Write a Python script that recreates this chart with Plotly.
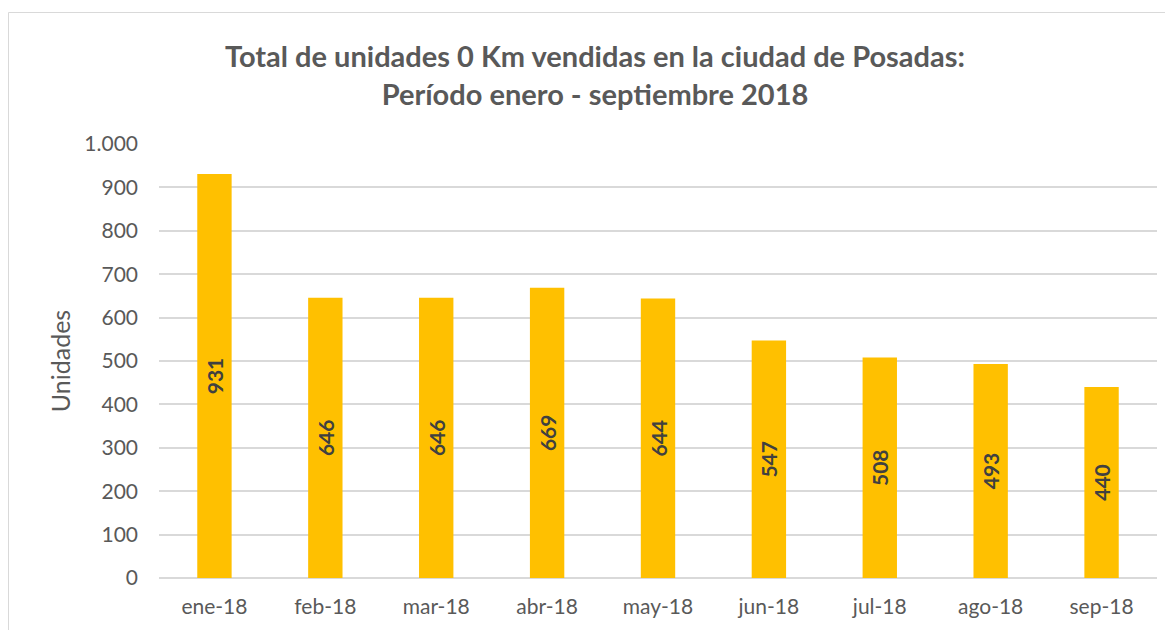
import plotly.graph_objects as go

months = ["ene-18", "feb-18", "mar-18", "abr-18", "may-18", "jun-18", "jul-18", "ago-18", "sep-18"]
units = [931, 646, 646, 669, 644, 547, 508, 493, 440]
y_ticks = [0, 100, 200, 300, 400, 500, 600, 700, 800, 900, 1000]

FONT = "Lato, Open Sans, sans-serif"

fig = go.Figure(go.Bar(
    x=months, y=units,
    marker=dict(color="#FFC000", line=dict(width=0)),
    text=[str(v) for v in units],
    textposition="inside",
    insidetextanchor="middle",
    textangle=-90,
    textfont=dict(family=FONT, size=21, color="#404040", weight="bold"),
    cliponaxis=False,
))

# page has an 8px body margin; work in figure coordinates
W, H = 1165, 622
L, R, T, B = 151, 16, 136, 52
pw, ph = W - L - R, H - T - B

def px_to_paper_x(px):
    return (px - L) / pw

def px_to_paper_y(py):
    return (H - B - py) / ph

fig.update_layout(
    width=W, height=H,
    margin=dict(l=L, r=R, t=T, b=B),
    paper_bgcolor="white", plot_bgcolor="white",
    separators=",.",
    bargap=0.69,
    showlegend=False,
    font=dict(family=FONT, color="#595959"),
    title=dict(
        text="Total de unidades 0 Km vendidas en la ciudad de Posadas:<br>Período enero - septiembre 2018",
        x=px_to_paper_x(587), xref="paper", xanchor="center",
        y=1 - 59 / H, yanchor="middle", yref="container",
        font=dict(family=FONT, size=29, color="#595959", weight="bold"),
    ),
    xaxis=dict(
        showgrid=False, showline=False, ticks="",
        tickfont=dict(family=FONT, size=21, color="#595959"),
        ticklabelstandoff=14,
    ),
    yaxis=dict(
        range=[0, 1000], tickvals=y_ticks, tickformat=",",
        showgrid=True, gridcolor="#D9D9D9", gridwidth=1.5,
        zeroline=True, zerolinecolor="#D9D9D9", zerolinewidth=1.5,
        showline=False, ticks="",
        tickfont=dict(family=FONT, size=21, color="#595959"),
        ticklabelstandoff=20,
        title=dict(text="Unidades", font=dict(family=FONT, size=25, color="#595959"), standoff=6),
    ),
    shapes=[dict(
        type="rect", xref="paper", yref="paper",
        x0=px_to_paper_x(0.5), x1=px_to_paper_x(1185),
        y0=px_to_paper_y(645), y1=px_to_paper_y(4.5),
        line=dict(color="#D9D9D9", width=1), fillcolor="rgba(0,0,0,0)", layer="below",
    )],
)

fig.write_html("out.html")
